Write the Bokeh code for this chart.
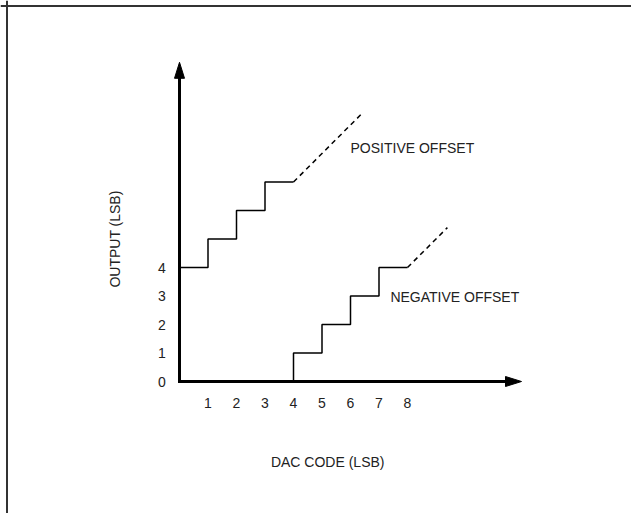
from bokeh.plotting import figure
from bokeh.models import Range1d, Span
from bokeh.core.properties import value
from bokeh.embed import file_html
from bokeh.resources import INLINE

# ---- data ----
pos_codes = [0, 1, 2, 3, 4]
pos_output = [4, 5, 6, 7, 7]
pos_dash_x = [4, 6.4]
pos_dash_y = [7, 9.4]

neg_codes = [4, 4, 5, 6, 7, 8]
neg_output = [0, 1, 2, 3, 4, 4]
neg_dash_x = [8, 9.4]
neg_dash_y = [4, 5.4]

x_tick_vals = [1, 2, 3, 4, 5, 6, 7, 8]
x_tick_labels = ["1", "2", "3", "4", "5", "6", "7", "8"]
y_tick_vals = [0, 1, 2, 3, 4]
y_tick_labels = ["0", "1", "2", "3", "4"]

x_axis_end = 12.0
y_axis_end = 11.2

series_labels = ["POSITIVE OFFSET", "NEGATIVE OFFSET"]
series_label_x = [6.0, 7.4]
series_label_y = [8.2, 2.95]

x_title = "DAC CODE (LSB)"
y_title = "OUTPUT (LSB)"

# ---- layout ----
W, H = 631, 513
unit = 28.5  # px per LSB
ox, oy = 179, 381  # pixel position of the origin
x0 = -ox / unit
y1 = oy / unit
x_range = Range1d(x0, x0 + W / unit)
y_range = Range1d(y1 - H / unit, y1)

FONT = value("Liberation Sans")
TXT = "#222222"
FS = "14px"

p = figure(width=W, height=H, x_range=x_range, y_range=y_range,
           output_backend="svg", toolbar_location=None, min_border=0)
p.axis.visible = False
p.grid.visible = False
p.outline_line_color = None
p.background_fill_color = "white"
p.border_fill_color = "white"

# frame border (left and top only, as cropped in the reference)
p.add_layout(Span(location=x0 + 6.5 / unit, dimension="height", line_color="#333333", line_width=2))
p.add_layout(Span(location=y1 - 5.5 / unit, dimension="width", line_color="#333333", line_width=2))

# axes with arrowheads
p.line([0, x_axis_end - 0.3], [0, 0], line_color="black", line_width=3)
p.line([0, 0], [-0.05, y_axis_end - 0.3], line_color="black", line_width=3)
hl = 16 / unit
hw = 5 / unit
p.patch([x_axis_end, x_axis_end - hl, x_axis_end - hl], [0, hw, -hw], color="black")
p.patch([0, hw, -hw], [y_axis_end, y_axis_end - hl, y_axis_end - hl], color="black")

# staircases
p.step(pos_codes, pos_output, mode="after", line_color="black", line_width=1.5)
p.line(pos_dash_x, pos_dash_y, line_color="black", line_width=1.5, line_dash="5 4")
p.step(neg_codes, neg_output, mode="after", line_color="black", line_width=1.5)
p.line(neg_dash_x, neg_dash_y, line_color="black", line_width=1.5, line_dash="5 4")

# tick labels
p.text(x=x_tick_vals, y=[-0.77] * len(x_tick_vals), text=x_tick_labels,
       text_font=FONT, text_font_size=FS, text_color=TXT,
       text_align="center", text_baseline="middle")
p.text(x=[-0.62] * len(y_tick_vals), y=y_tick_vals, text=y_tick_labels,
       text_font=FONT, text_font_size=FS, text_color=TXT,
       text_align="center", text_baseline="middle")

# series labels
p.text(x=series_label_x, y=series_label_y, text=series_labels,
       text_font=FONT, text_font_size=FS, text_color=TXT,
       text_align="left", text_baseline="middle")

# axis titles
p.text(x=[5.2], y=[-2.84], text=[x_title], text_font=FONT, text_font_size=FS,
       text_color=TXT, text_align="center", text_baseline="middle")
p.text(x=[-2.25], y=[5.0], text=[y_title], text_font=FONT, text_font_size=FS,
       text_color=TXT, text_align="center", text_baseline="middle", angle=1.5708)

open("out.html", "w").write(file_html(p, INLINE))
